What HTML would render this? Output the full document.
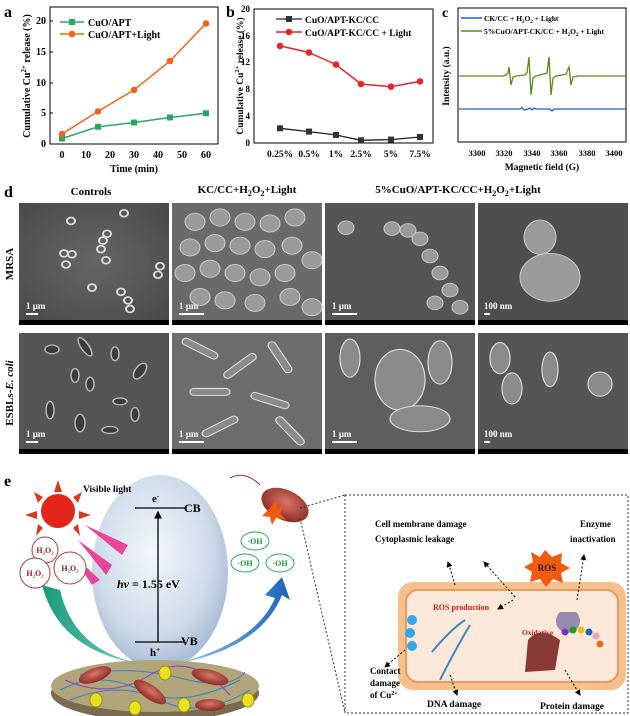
<!DOCTYPE html><html><head><style>
body{margin:0;background:#fff;width:630px;height:716px;overflow:hidden;font-family:"Liberation Serif",serif}
svg{display:block}
text{font-family:"Liberation Serif",serif;font-weight:bold}
</style></head><body>
<svg width="630" height="716" viewBox="0 0 630 716">
<defs>
<radialGradient id="bub" cx="0.45" cy="0.4" r="0.6"><stop offset="0" stop-color="#f4f7fb"/><stop offset="0.7" stop-color="#cfdbea"/><stop offset="1" stop-color="#a9bcd6"/></radialGradient>
<radialGradient id="sem" cx="0.5" cy="0.5" r="0.7"><stop offset="0" stop-color="#666"/><stop offset="1" stop-color="#4a4a4a"/></radialGradient>
<linearGradient id="arL" x1="0" x2="1"><stop offset="0" stop-color="#1a9b7a"/><stop offset="1" stop-color="#7ed0d0"/></linearGradient>
<linearGradient id="arR" x1="0" x2="1"><stop offset="0" stop-color="#9ad0ee"/><stop offset="1" stop-color="#1b63b8"/></linearGradient>
<radialGradient id="rod" cx="0.5" cy="0.4" r="0.6"><stop offset="0" stop-color="#d9776a"/><stop offset="1" stop-color="#8a2a22"/></radialGradient>
<marker id="ah" markerWidth="6" markerHeight="6" refX="5" refY="3" orient="auto"><path d="M0,0L6,3L0,6z" fill="#000"/></marker>
</defs>

<!-- Panel a -->
<text x="4" y="17" font-size="16">a</text>
<rect x="50" y="7" width="168" height="137" fill="none" stroke="#000"/>
<g font-size="10" text-anchor="end">
<text x="46" y="147">0</text><text x="46" y="116">5</text><text x="46" y="86">10</text><text x="46" y="55">15</text><text x="46" y="24">20</text></g>
<g stroke="#000"><line x1="50" y1="113" x2="53" y2="113"/><line x1="50" y1="83" x2="53" y2="83"/><line x1="50" y1="52" x2="53" y2="52"/><line x1="50" y1="21" x2="53" y2="21"/></g>
<g font-size="10" text-anchor="middle">
<text x="62" y="158">0</text><text x="86" y="158">10</text><text x="110" y="158">20</text><text x="134" y="158">30</text><text x="158" y="158">40</text><text x="182" y="158">50</text><text x="206" y="158">60</text></g>
<text x="134" y="172" font-size="10" text-anchor="middle">Time (min)</text>
<text transform="translate(30,76) rotate(-90)" font-size="10" text-anchor="middle">Cumulative Cu<tspan dy="-4" font-size="7">2+</tspan><tspan dy="4"> release (%)</tspan></text>
<polyline points="62,138.5 98,126.8 134,122.5 170,117.5 206,113.3" fill="none" stroke="#27a863" stroke-width="1.5"/>
<g fill="#27a863"><rect x="59" y="135.5" width="6" height="6"/><rect x="95" y="123.8" width="6" height="6"/><rect x="131" y="119.5" width="6" height="6"/><rect x="167" y="114.5" width="6" height="6"/><rect x="203" y="110.3" width="6" height="6"/></g>
<polyline points="62,134 98,111.4 134,89.9 170,61 206,23.5" fill="none" stroke="#f0641a" stroke-width="1.5"/>
<g fill="#f0641a"><circle cx="62" cy="134" r="3.3"/><circle cx="98" cy="111.4" r="3.3"/><circle cx="134" cy="89.9" r="3.3"/><circle cx="170" cy="61" r="3.3"/><circle cx="206" cy="23.5" r="3.3"/></g>
<line x1="60" y1="22" x2="84" y2="22" stroke="#27a863" stroke-width="1.5"/><rect x="69" y="19" width="6" height="6" fill="#27a863"/>
<text x="88" y="26" font-size="10">CuO/APT</text>
<line x1="60" y1="34" x2="84" y2="34" stroke="#f0641a" stroke-width="1.5"/><circle cx="72" cy="34" r="3.3" fill="#f0641a"/>
<text x="88" y="38" font-size="10">CuO/APT+Light</text>

<!-- Panel b -->
<text x="226" y="17" font-size="16">b</text>
<rect x="254" y="9" width="179" height="134" fill="none" stroke="#000"/>
<g font-size="9" text-anchor="end">
<text x="250" y="146">0</text><text x="250" y="119">4</text><text x="250" y="92">8</text><text x="250" y="65">12</text><text x="250" y="39">16</text><text x="250" y="12">20</text></g>
<text transform="translate(243,76) rotate(-90)" font-size="9.5" text-anchor="middle">Cumulative Cu<tspan dy="-4" font-size="6.5">2+</tspan><tspan dy="4"> release (%)</tspan></text>
<g font-size="9.5" text-anchor="middle">
<text x="280" y="157">0.25%</text><text x="309" y="157">0.5%</text><text x="336" y="157">1%</text><text x="361" y="157">2.5%</text><text x="391" y="157">5%</text><text x="420" y="157">7.5%</text></g>
<polyline points="280,128.3 309,131.6 336,135 361,140.3 391,139.6 420,137" fill="none" stroke="#222" stroke-width="1.3"/>
<g fill="#333"><rect x="277" y="125.3" width="6" height="6"/><rect x="306" y="128.6" width="6" height="6"/><rect x="333" y="132" width="6" height="6"/><rect x="358" y="137.3" width="6" height="6"/><rect x="388" y="136.6" width="6" height="6"/><rect x="417" y="134" width="6" height="6"/></g>
<polyline points="280,45.9 309,52.5 336,64.6 361,84 391,86.7 420,81.4" fill="none" stroke="#e8232b" stroke-width="1.5"/>
<g fill="#e8232b"><circle cx="280" cy="45.9" r="3.3"/><circle cx="309" cy="52.5" r="3.3"/><circle cx="336" cy="64.6" r="3.3"/><circle cx="361" cy="84" r="3.3"/><circle cx="391" cy="86.7" r="3.3"/><circle cx="420" cy="81.4" r="3.3"/></g>
<line x1="276" y1="19" x2="302" y2="19" stroke="#222" stroke-width="1.3"/><rect x="286" y="16" width="6" height="6" fill="#333"/>
<text x="305" y="23" font-size="9.5">CuO/APT-KC/CC</text>
<line x1="276" y1="32" x2="302" y2="32" stroke="#e8232b" stroke-width="1.5"/><circle cx="289" cy="32" r="3.3" fill="#e8232b"/>
<text x="305" y="36" font-size="9.5">CuO/APT-KC/CC + Light</text>

<!-- Panel c -->
<text x="442" y="17" font-size="14">c</text>
<rect x="458" y="8" width="168" height="134" fill="none" stroke="#000"/>
<text transform="translate(449,76) rotate(-90)" font-size="9.5" text-anchor="middle">Intensity (a.u.)</text>
<g font-size="8.5" text-anchor="middle">
<text x="477" y="156">3300</text><text x="504" y="156">3320</text><text x="532" y="156">3340</text><text x="559" y="156">3360</text><text x="587" y="156">3380</text><text x="614" y="156">3400</text></g>
<text x="542" y="170" font-size="9.5" text-anchor="middle">Magnetic field (G)</text>
<line x1="461" y1="18" x2="482" y2="18" stroke="#2a55d6" stroke-width="1.5"/>
<text x="484" y="21" font-size="7.5">CK/CC + H<tspan font-size="5" dy="2">2</tspan><tspan dy="-2">O</tspan><tspan font-size="5" dy="2">2</tspan><tspan dy="-2"> + Light</tspan></text>
<line x1="461" y1="31" x2="482" y2="31" stroke="#5a8a1a" stroke-width="1.5"/>
<text x="484" y="34" font-size="7.5">5%CuO/APT-CK/CC + H<tspan font-size="5" dy="2">2</tspan><tspan dy="-2">O</tspan><tspan font-size="5" dy="2">2</tspan><tspan dy="-2"> + Light</tspan></text>
<polyline points="459,109 520,109 522,107.5 524,110 528,109 530,108 532,110 534,108 536,109 550,109 552,111 554,109 626,109" fill="none" stroke="#2a55d6" stroke-width="1.3"/>
<polyline points="459,76 503,76 506,75 508,73 509,67 510,76 511,85 513,77 516,76 525,75 527,73 529,57 530,76 531,95 533,78 536,76 540,75 544,74 547,73 549,57 550,76 551,95 553,78 556,76 562,75 566,74 569,67 570,76 571,85 573,77 578,76 626,76" fill="none" stroke="#5a8a1a" stroke-width="1.3"/>

<!-- Panel d -->
<text x="4" y="197" font-size="16">d</text>
<g font-size="11" text-anchor="middle">
<text x="91" y="195">Controls</text>
<text x="247" y="193">KC/CC+H<tspan font-size="8" dy="3">2</tspan><tspan dy="-3">O</tspan><tspan font-size="8" dy="3">2</tspan><tspan dy="-3">+Light</tspan></text>
<text x="458" y="193">5%CuO/APT-KC/CC+H<tspan font-size="8" dy="3">2</tspan><tspan dy="-3">O</tspan><tspan font-size="8" dy="3">2</tspan><tspan dy="-3">+Light</tspan></text>
</g>
<text transform="translate(13,264) rotate(-90)" font-size="11" text-anchor="middle">MRSA</text>
<text transform="translate(13,393) rotate(-90)" font-size="11" text-anchor="middle">ESBLs-<tspan font-style="italic">E. coli</tspan></text>

<!-- Row 1: content drawn in 208..345 space, mapped to 203..320 -->
<g transform="translate(0,203) scale(1,0.854) translate(0,-208)">
<rect x="19" y="208" width="150" height="137" fill="url(#sem)"/>
<rect x="172" y="208" width="150" height="137" fill="#6a6a6a"/>
<rect x="325" y="208" width="150" height="137" fill="#555"/>
<rect x="478" y="208" width="150" height="137" fill="#4e4e4e"/>
<g fill="none" stroke="#ddd" stroke-width="2">
<circle cx="71" cy="229" r="4"/><circle cx="124" cy="220" r="4"/><circle cx="107" cy="244" r="4"/><circle cx="103" cy="252" r="4"/><circle cx="101" cy="262" r="4"/><circle cx="106" cy="275" r="4"/>
<circle cx="64" cy="267" r="4"/><circle cx="72" cy="268" r="4"/><circle cx="66" cy="280" r="4"/><circle cx="160" cy="282" r="4"/><circle cx="158" cy="292" r="4"/>
<circle cx="92" cy="307" r="4"/><circle cx="121" cy="312" r="4"/><circle cx="128" cy="322" r="4"/><circle cx="130" cy="332" r="4"/>
</g>
<g fill="#9a9a9a" stroke="#ccc">
<circle cx="195" cy="230" r="10"/><circle cx="220" cy="225" r="10"/><circle cx="245" cy="230" r="10"/><circle cx="270" cy="232" r="10"/><circle cx="295" cy="225" r="10"/>
<circle cx="190" cy="260" r="10"/><circle cx="215" cy="255" r="10"/><circle cx="240" cy="258" r="10"/><circle cx="265" cy="262" r="10"/><circle cx="292" cy="258" r="10"/><circle cx="312" cy="275" r="10"/>
<circle cx="185" cy="290" r="10"/><circle cx="210" cy="285" r="10"/><circle cx="235" cy="290" r="10"/><circle cx="260" cy="295" r="10"/><circle cx="285" cy="290" r="10"/>
<circle cx="200" cy="318" r="10"/><circle cx="225" cy="322" r="10"/><circle cx="255" cy="325" r="10"/><circle cx="290" cy="318" r="10"/><circle cx="312" cy="330" r="10"/>
<circle cx="346" cy="237" r="8"/><circle cx="392" cy="238" r="8"/><circle cx="408" cy="240" r="8"/><circle cx="420" cy="250" r="8"/><circle cx="430" cy="270" r="8"/><circle cx="440" cy="290" r="8"/><circle cx="450" cy="310" r="8"/><circle cx="460" cy="330" r="8"/><circle cx="435" cy="325" r="8"/>
<ellipse cx="540" cy="248" rx="16" ry="20"/><ellipse cx="550" cy="295" rx="30" ry="28"/>
</g>
</g>
<g fill="#000"><rect x="19" y="320" width="150" height="5"/><rect x="172" y="320" width="150" height="5"/><rect x="325" y="320" width="150" height="5"/><rect x="478" y="320" width="150" height="5"/></g>

<!-- Row 2: content drawn in 366..500 space, mapped to 333..449 -->
<g transform="translate(0,333) scale(1,0.866) translate(0,-366)">
<rect x="19" y="366" width="150" height="134" fill="#555"/>
<rect x="172" y="366" width="150" height="134" fill="#6d6d6d"/>
<rect x="325" y="366" width="150" height="134" fill="#5e5e5e"/>
<rect x="478" y="366" width="150" height="134" fill="#555"/>
<g fill="#3c3c3c" stroke="#bbb" stroke-width="1.5">
<ellipse cx="52" cy="385" rx="7" ry="5"/><ellipse cx="85" cy="382" rx="4" ry="12" transform="rotate(-30 85 382)"/><ellipse cx="115" cy="390" rx="4" ry="8"/><ellipse cx="140" cy="410" rx="5" ry="10" transform="rotate(30 140 410)"/>
<ellipse cx="75" cy="415" rx="4" ry="8"/><ellipse cx="90" cy="425" rx="4" ry="8"/><ellipse cx="120" cy="445" rx="7" ry="4"/><ellipse cx="50" cy="455" rx="4" ry="10"/><ellipse cx="80" cy="470" rx="5" ry="10"/><ellipse cx="110" cy="478" rx="8" ry="4"/><ellipse cx="135" cy="460" rx="4" ry="8"/>
</g>
<g fill="#8a8a8a" stroke="#ddd" stroke-width="1.2">
<rect x="180" y="380" width="40" height="8" rx="4" transform="rotate(30 200 384)"/><rect x="220" y="400" width="40" height="8" rx="4" transform="rotate(-40 240 404)"/><rect x="260" y="390" width="40" height="8" rx="4" transform="rotate(60 280 394)"/><rect x="190" y="430" width="40" height="8" rx="4"/><rect x="250" y="440" width="40" height="8" rx="4" transform="rotate(20 270 444)"/><rect x="200" y="470" width="40" height="8" rx="4" transform="rotate(-30 220 474)"/><rect x="270" y="475" width="40" height="8" rx="4" transform="rotate(50 290 479)"/>
<ellipse cx="350" cy="395" rx="10" ry="22"/><ellipse cx="400" cy="420" rx="25" ry="35"/><ellipse cx="440" cy="400" rx="12" ry="25"/><ellipse cx="420" cy="465" rx="30" ry="15"/>
<ellipse cx="500" cy="395" rx="10" ry="18"/><ellipse cx="512" cy="430" rx="10" ry="18"/><ellipse cx="550" cy="408" rx="8" ry="20"/><ellipse cx="600" cy="425" rx="12" ry="14"/>
</g>
</g>
<g fill="#000"><rect x="19" y="449" width="150" height="5"/><rect x="172" y="449" width="150" height="5"/><rect x="325" y="449" width="150" height="5"/><rect x="478" y="449" width="150" height="5"/></g>

<g fill="#fff" font-size="9">
<text x="26" y="309" font-family="Liberation Sans">1 µm</text><text x="179" y="309" font-family="Liberation Sans">1 µm</text><text x="332" y="309" font-family="Liberation Sans">1 µm</text><text x="484" y="309" font-family="Liberation Sans">100 nm</text>
<text x="26" y="437" font-family="Liberation Sans">1 µm</text><text x="179" y="437" font-family="Liberation Sans">1 µm</text><text x="332" y="437" font-family="Liberation Sans">1 µm</text><text x="484" y="437" font-family="Liberation Sans">100 nm</text>
</g>
<g fill="#fff"><rect x="26" y="313" width="12" height="2"/><rect x="179" y="313" width="25" height="2"/><rect x="332" y="313" width="25" height="2"/><rect x="484" y="313" width="6" height="2"/>
<rect x="26" y="441" width="12" height="2"/><rect x="179" y="441" width="25" height="2"/><rect x="332" y="441" width="25" height="2"/><rect x="484" y="441" width="6" height="2"/></g>

<!-- Panel e -->
<text x="4" y="486" font-size="16">e</text>
<ellipse cx="160" cy="572" rx="68" ry="97" fill="url(#bub)"/>
<g fill="#d63a1a"><polygon points="58,480 54,492 62,492"/><polygon points="82,492 73,497 78,503"/><polygon points="34,492 43,497 38,503"/><polygon points="25,515 37,511 37,519"/><polygon points="91,515 79,511 79,519"/><polygon points="36,536 43,528 38,524"/><polygon points="80,536 73,528 78,524"/></g>
<circle cx="58" cy="511" r="17" fill="#e2261a"/>
<text x="83" y="492" font-size="9.5">Visible light</text>
<g fill="#e8449a"><polygon points="85,525 128,545 122,555"/><polygon points="78,540 112,565 106,575"/><polygon points="70,552 100,580 92,585"/></g>
<line x1="135" y1="508" x2="185" y2="508" stroke="#000" stroke-width="1.3"/><line x1="135" y1="642" x2="185" y2="642" stroke="#000" stroke-width="1.3"/>
<line x1="158" y1="642" x2="158" y2="512" stroke="#000" stroke-width="1.3" marker-end="url(#ah)"/>
<text x="152" y="502" font-size="11">e<tspan dy="-4" font-size="7">-</tspan></text>
<text x="184" y="512" font-size="12">CB</text><text x="181" y="645" font-size="12">VB</text>
<text x="150" y="656" font-size="11">h<tspan dy="-4" font-size="7">+</tspan></text>
<text x="117" y="588" font-size="12" font-weight="bold"><tspan font-style="italic">hv</tspan> = 1.55 eV</text>
<g fill="#fff" stroke="#a04040"><circle cx="45" cy="550" r="13"/><circle cx="35" cy="573" r="15"/><circle cx="70" cy="568" r="16"/></g>
<g font-size="8" fill="#8a2020" font-weight="normal" text-anchor="middle"><text x="45" y="553">H₂O₂</text><text x="35" y="576">H₂O₂</text><text x="70" y="571">H₂O₂</text></g>
<path d="M42,585 Q60,655 150,665 Q75,655 60,590z" fill="url(#arL)"/>
<path d="M170,665 Q260,650 282,595 L290,600 L282,577 L265,595 L275,598 Q255,645 170,665z" fill="url(#arR)"/>
<g fill="#fff" stroke="#2aa860"><ellipse cx="255" cy="541" rx="14" ry="9"/><ellipse cx="245" cy="563" rx="14" ry="9"/><ellipse cx="280" cy="563" rx="14" ry="9"/></g>
<g font-size="8" fill="#1a9a30" text-anchor="middle"><text x="255" y="544">·OH</text><text x="245" y="566">·OH</text><text x="280" y="566">·OH</text></g>
<ellipse cx="285" cy="505" rx="25" ry="15" fill="url(#rod)" transform="rotate(25 285 505)"/>
<polygon points="270,508 276,500 278,508 285,505 280,513 286,520 276,518 272,525 270,517 262,516" fill="#f25a10"/>
<path d="M230,478 Q245,470 260,485" stroke="#a02050" fill="none"/>
<ellipse cx="155" cy="693" rx="104" ry="28" fill="#7a6a50"/>
<ellipse cx="155" cy="686" rx="104" ry="26" fill="#b0a57a"/>
<g stroke="#3080d0" stroke-width="1" fill="none"><path d="M60,690 Q100,670 140,690 T240,680"/><path d="M70,700 Q120,680 160,700 T250,690"/><path d="M80,675 Q130,665 180,678 T245,672"/></g>
<g stroke="#8a40c0" stroke-width="1" fill="none"><path d="M65,680 Q110,700 150,675 T230,695"/></g>
<g fill="url(#rod)"><ellipse cx="95" cy="675" rx="17" ry="7" transform="rotate(-20 95 675)"/><ellipse cx="150" cy="692" rx="19" ry="7" transform="rotate(35 150 692)"/><ellipse cx="210" cy="677" rx="19" ry="7" transform="rotate(15 210 677)"/><ellipse cx="210" cy="705" rx="15" ry="6"/></g>
<g fill="#e8e020" stroke="#a09010"><ellipse cx="165" cy="673" rx="6" ry="7"/><ellipse cx="184" cy="705" rx="6" ry="7"/><ellipse cx="96" cy="700" rx="6" ry="7"/><ellipse cx="135" cy="708" rx="6" ry="7"/><ellipse cx="248" cy="700" rx="6" ry="7"/></g>

<rect x="345" y="495" width="283" height="218" fill="none" stroke="#333" stroke-dasharray="2,2"/>
<line x1="300" y1="508" x2="345" y2="495" stroke="#333" stroke-dasharray="2,2"/>
<line x1="300" y1="518" x2="345" y2="713" stroke="#333" stroke-dasharray="2,2"/>
<rect x="398" y="582" width="228" height="108" rx="15" fill="#f3c08e"/>
<rect x="406" y="590" width="212" height="92" rx="12" fill="#fbe8d8" stroke="#e89a60" stroke-width="2"/>
<text x="375" y="527" font-size="9">Cell membrane damage</text>
<text x="375" y="542" font-size="9">Cytoplasmic leakage</text>
<text x="580" y="527" font-size="9">Enzyme</text>
<text x="570" y="542" font-size="9">inactivation</text>
<polygon points="545,550 552,557 562,553 561,563 570,568 561,573 563,583 553,579 546,587 540,579 530,582 532,572 524,567 533,562 531,552 540,557" fill="#f25a10"/>
<text x="547" y="571" font-size="9" text-anchor="middle" fill="#222">ROS</text>
<text x="433" y="610" font-size="8" fill="#c02020">ROS production</text>
<text x="522" y="635" font-size="7.5" fill="#c02020">Oxidative</text><text x="530" y="645" font-size="7.5" fill="#c02020">stress</text>
<g fill="#30a8e8"><circle cx="412" cy="620" r="5"/><circle cx="410" cy="633" r="5"/><circle cx="412" cy="646" r="5"/></g>
<path d="M432,652 Q450,630 465,620 M440,680 Q455,650 470,625" stroke="#3a8ac0" stroke-width="2" fill="none"/>
<path d="M528,640 Q540,625 560,640 L555,670 L525,672z" fill="#8a3a36"/>
<path d="M560,612 a12,12 0 1 0 16,0 z" fill="#9a8ab0"/>
<circle cx="565" cy="632" r="3.5" fill="#8030c0"/><circle cx="573" cy="630" r="3.5" fill="#20a020"/><circle cx="581" cy="630" r="3.5" fill="#e8c020"/><circle cx="589" cy="632" r="3.5" fill="#2060c0"/><circle cx="596" cy="636" r="3.5" fill="#f0a0b0"/><circle cx="600" cy="644" r="3.5" fill="#e07020"/>
<text x="370" y="674" font-size="9">Contact</text><text x="370" y="686" font-size="9">damage</text><text x="370" y="698" font-size="9">of Cu<tspan dy="-3" font-size="6">2+</tspan></text>
<text x="427" y="707" font-size="9.5">DNA damage</text>
<text x="540" y="709" font-size="9.5">Protein damage</text>
<g stroke="#000" stroke-dasharray="2,2" fill="none" marker-end="url(#ah)">
<line x1="455" y1="585" x2="448" y2="562"/><line x1="515" y1="597" x2="484" y2="562"/><line x1="577" y1="600" x2="584" y2="555"/>
<line x1="405" y1="650" x2="385" y2="667"/><line x1="450" y1="675" x2="457" y2="695"/><line x1="565" y1="670" x2="580" y2="695"/>
<line x1="513" y1="600" x2="498" y2="609"/></g>
</svg>
</body></html>
